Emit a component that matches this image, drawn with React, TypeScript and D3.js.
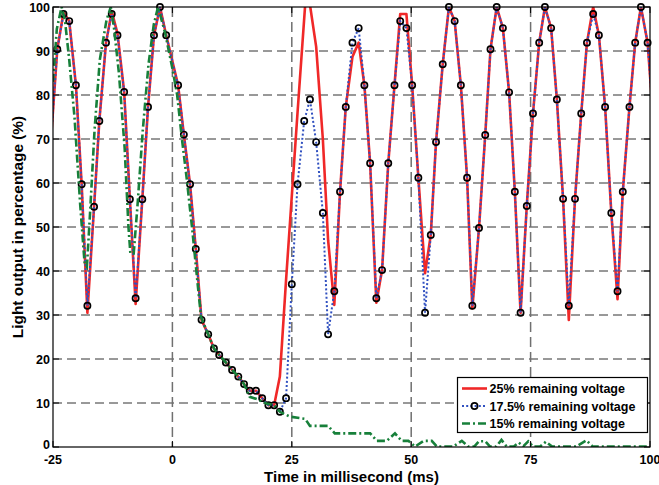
import React from 'react';
import * as d3 from 'd3';

// ---- data ----
const xTicks = [-25, 0, 25, 50, 75, 100];
const yTicks = [0, 10, 20, 30, 40, 50, 60, 70, 80, 90, 100];
const xGrid = [0, 25, 50, 75];
const yGrid = [10, 20, 30, 40, 50, 60, 70, 80, 90];

const seriesNames = ['25% remaining voltage', '17.5% remaining voltage', '15% remaining voltage'];

const redX = [-25.35, -24.1, -22.8, -21.6, -20.2, -19.0, -17.8, -16.4, -15.3, -13.9, -12.7, -11.5, -10.1, -8.9, -7.7, -6.3, -5.1, -3.85, -2.6, -1.3, 1.2, 2.4, 3.7, 4.9, 6.1, 7.5, 8.7, 9.8, 11.2, 12.5, 13.8, 15.0, 16.2, 17.5, 18.8, 20.1, 21.3, 22.5, 23.8, 25.0, 26.2, 27.8, 28.8, 30.1, 31.5, 32.6, 33.9, 35.1, 36.3, 37.7, 39.0, 40.2, 41.4, 42.7, 43.9, 45.2, 46.5, 47.7, 49.0, 50.2, 51.5, 52.9, 54.1, 55.2, 56.6, 57.9, 59.1, 60.4, 61.7, 62.8, 64.2, 65.5, 66.6, 67.9, 69.2, 70.5, 71.7, 72.9, 74.2, 75.5, 76.8, 78.0, 79.3, 80.5, 81.8, 83.0, 84.3, 85.6, 86.8, 88.1, 89.3, 90.6, 91.9, 93.2, 94.3, 95.7, 96.9, 98.1, 99.5, 100.7];
const redY = [71, 90.4, 98.8, 96.8, 82.2, 59.7, 30.5, 54.6, 74.1, 91.9, 99.0, 94.0, 80.7, 56.3, 32.5, 56.3, 77.3, 93.6, 100, 93.6, 82.2, 71.0, 59.7, 45.0, 28.9, 25.6, 22.4, 20.9, 19.2, 17.5, 16.0, 14.3, 12.8, 12.8, 11.1, 9.5, 9.5, 16.0, 38, 57, 76, 100.5, 100.5, 91, 70, 47, 32.3, 58.0, 77.3, 88.7, 91.9, 82.2, 64.5, 32.8, 40.2, 64.5, 82.2, 98.4, 98.4, 82.2, 61.2, 39.5, 48.2, 69.3, 87.0, 100, 96.8, 82.2, 61.2, 31.5, 49.8, 70.9, 90.4, 100, 95.2, 80.6, 58.0, 30.5, 54.8, 75.8, 91.9, 100, 95.2, 79.0, 56.4, 28.9, 56.4, 75.8, 91.9, 100, 93.6, 77.3, 53.2, 33.6, 58.0, 77.3, 91.9, 100, 91.9, 74];

const blueX = [-25.35, -24.1, -22.8, -21.6, -20.2, -19.0, -17.8, -16.4, -15.3, -13.9, -12.7, -11.5, -10.1, -8.9, -7.7, -6.3, -5.1, -3.85, -2.6, -1.3, 1.2, 2.4, 3.7, 4.9, 6.1, 7.5, 8.7, 9.8, 11.2, 12.5, 13.8, 15.0, 16.2, 17.5, 18.8, 20.1, 21.3, 22.5, 23.8, 25.0, 26.2, 27.6, 28.8, 30.1, 31.5, 32.6, 33.9, 35.1, 36.3, 37.7, 39.0, 40.2, 41.4, 42.7, 43.9, 45.2, 46.5, 47.7, 49.0, 50.2, 51.5, 52.9, 54.1, 55.2, 56.6, 57.9, 59.1, 60.4, 61.7, 62.8, 64.2, 65.5, 66.6, 67.9, 69.2, 70.5, 71.7, 72.9, 74.2, 75.5, 76.8, 78.0, 79.3, 80.5, 81.8, 83.0, 84.3, 85.6, 86.8, 88.1, 89.3, 90.6, 91.9, 93.2, 94.3, 95.7, 96.9, 98.1, 99.5, 100.7];
const blueY = [71, 90.4, 98.4, 96.8, 82.2, 59.7, 32.1, 54.6, 74.1, 91.9, 98.4, 93.6, 80.7, 56.3, 33.8, 56.3, 77.3, 93.6, 100, 93.6, 82.2, 71.0, 59.7, 45.0, 28.9, 25.6, 22.4, 20.9, 19.2, 17.5, 16.0, 14.3, 12.8, 12.8, 11.1, 9.5, 9.5, 8.0, 11.1, 37.0, 59.7, 74.1, 79.0, 69.3, 53.2, 25.6, 35.4, 58.0, 77.3, 91.9, 95.2, 82.2, 64.5, 33.8, 40.2, 64.5, 82.2, 96.8, 95.2, 82.2, 61.2, 30.5, 48.2, 69.3, 87.0, 100, 96.8, 82.2, 61.2, 32.1, 49.8, 70.9, 90.4, 100, 95.2, 80.6, 58.0, 30.5, 54.8, 75.8, 91.9, 100, 95.2, 79.0, 56.4, 32.1, 56.4, 75.8, 91.9, 98.4, 93.6, 77.3, 53.2, 35.4, 58.0, 77.3, 91.9, 100, 91.9, 74];

const greenX = [-25.0, -24.2, -23.2, -22.5, -21.6, -20.5, -19.3, -18.4, -17.9, -17.3, -16.3, -15.2, -13.8, -12.9, -12.2, -11.2, -10.0, -9.2, -8.8, -8.1, -7.3, -6.2, -5.0, -3.9, -3.0, -1.5, 0.0, 1.0, 2.0, 3.0, 4.2, 5.2, 6.0, 7.5, 8.7, 9.8, 11.2, 12.5, 13.8, 15.0, 16.2, 17.9, 19.7, 21.3, 22.5, 24.6, 27.8, 28.8, 32.6, 34.0, 41.4, 42.8, 44.9, 46.6, 48.0, 49.4, 50.8, 52.6, 54.3, 55.4, 58.8, 60.6, 62.0, 63.2, 64.2, 65.5, 66.5, 67.8, 68.9, 70.0, 71.5, 72.5, 73.5, 74.5, 75.5, 77.0, 78.2, 79.5, 84.5, 86.7, 88.0, 100];
const greenY = [83, 95, 100, 97, 88, 75, 55, 42, 41, 52, 72, 88, 97, 100, 95, 85, 68, 50, 44, 44, 55, 72, 87, 96, 100, 94, 86, 80, 70, 61, 49, 38, 29.5, 25.6, 22.4, 20.9, 19.2, 17.5, 16.0, 14.3, 11.4, 10.8, 9.9, 9.5, 8.0, 6.9, 6.4, 4.8, 4.8, 3.1, 3.1, 1.4, 1.4, 3.1, 1.4, 1.4, 0.1, 1.4, 1.4, 0.1, 0.1, 1.4, 0.1, 0.1, 1.3, 1.3, 0.1, 0.1, 1.6, 0.1, 0.1, 1.0, 0.2, 1.3, 0.1, 0.1, 1.2, 0.1, 0.1, 1.5, 0.1, 0.1];

// ---- layout ----
const W = 659;
const H = 485;
const L = 53;
const R = 650;
const T = 7;
const B = 447;

const RED = '#f02828';
const BLUE = '#3050c0';
const GREEN = '#17803a';
const FONT = '"Liberation Sans", Arial, Helvetica, sans-serif';

export default function App() {
  const x = d3.scaleLinear().domain([-25, 100]).range([L, R]);
  const y = d3.scaleLinear().domain([0, 100]).range([B, T]);

  const line = d3
    .line<[number, number]>()
    .x((d) => x(d[0]))
    .y((d) => y(d[1]));

  const red: [number, number][] = redX.map((v, i) => [v, redY[i]]);
  const blue: [number, number][] = blueX.map((v, i) => [v, blueY[i]]);
  const green: [number, number][] = greenX.map((v, i) => [v, greenY[i]]);
  const markers = blue.filter((d) => d[0] >= -25 && d[0] <= 100);

  const legX0 = 457.5;
  const legY0 = 377.5;
  const legRows = [388.5, 406, 423.5];

  return (
    <svg
      width={W}
      height={H}
      style={{ position: 'absolute', left: 0, top: 0, background: '#fff' }}
      fontFamily={FONT}
    >
      <defs>
        <clipPath id="plot">
          <rect x={L} y={T} width={R - L} height={B - T} />
        </clipPath>
      </defs>
      <rect x={0} y={0} width={W} height={H} fill="#fff" />

      {/* grid */}
      {yGrid.map((v) => (
        <line key={'gy' + v} x1={L} x2={R} y1={y(v)} y2={y(v)} stroke="#333" strokeWidth={1} strokeDasharray="9,5" />
      ))}
      {xGrid.map((v) => (
        <line key={'gx' + v} x1={x(v)} x2={x(v)} y1={T} y2={B} stroke="#707070" strokeWidth={1.5} strokeDasharray="10,5" />
      ))}

      {/* series */}
      <g clipPath="url(#plot)" fill="none">
        <path d={line(red) || ''} stroke={RED} strokeWidth={2.6} strokeLinejoin="round" />
        <path d={line(blue) || ''} stroke={BLUE} strokeWidth={2} strokeDasharray="2,2.2" />
      </g>
      {markers.map((d, i) => (
        <circle key={'m' + i} cx={x(d[0])} cy={y(d[1])} r={3.1} fill="none" stroke="#000" strokeWidth={1.7} />
      ))}
      <g clipPath="url(#plot)" fill="none">
        <path d={line(green) || ''} stroke={GREEN} strokeWidth={2.6} strokeDasharray="8,3,2,3" />
      </g>

      {/* axes box */}
      <rect x={L} y={T} width={R - L} height={B - T} fill="none" stroke="#000" strokeWidth={1.2} />

      {/* ticks */}
      {xTicks.map((v) => (
        <g key={'xt' + v}>
          <line x1={x(v)} x2={x(v)} y1={B} y2={B - 6} stroke="#000" strokeWidth={1} />
          <line x1={x(v)} x2={x(v)} y1={T} y2={T + 6} stroke="#000" strokeWidth={1} />
          <text x={x(v)} y={463.5} textAnchor="middle" fontSize={12.5} fontWeight="bold" fill="#000">
            {v}
          </text>
        </g>
      ))}
      {yTicks.map((v) => (
        <g key={'yt' + v}>
          <line x1={L} x2={L + 6} y1={y(v)} y2={y(v)} stroke="#000" strokeWidth={1} />
          <line x1={R} x2={R - 6} y1={y(v)} y2={y(v)} stroke="#000" strokeWidth={1} />
          <text x={50} y={v === 0 ? y(v) + 2 : y(v) + 4.5} textAnchor="end" fontSize={12.5} fontWeight="bold" fill="#000">
            {v}
          </text>
        </g>
      ))}

      {/* axis titles */}
      <text x={(L + R) / 2} y={481.5} textAnchor="middle" fontSize={15} fontWeight="bold" fill="#000">
        Time in millisecond (ms)
      </text>
      <text
        transform={`translate(23, ${(T + B) / 2}) rotate(-90)`}
        textAnchor="middle"
        fontSize={15.4}
        fontWeight="bold"
        fill="#000"
      >
        Light output in percentage (%)
      </text>

      {/* legend */}
      <rect x={legX0} y={legY0} width={190} height={55} fill="#fff" stroke="#000" strokeWidth={1.2} />
      <line x1={462} x2={487} y1={legRows[0]} y2={legRows[0]} stroke={RED} strokeWidth={2.6} />
      <line x1={462} x2={487} y1={legRows[1]} y2={legRows[1]} stroke={BLUE} strokeWidth={2} strokeDasharray="2,2.2" />
      <circle cx={474.5} cy={legRows[1]} r={3.1} fill="none" stroke="#000" strokeWidth={1.7} />
      <line x1={462} x2={487} y1={legRows[2]} y2={legRows[2]} stroke={GREEN} strokeWidth={2.6} strokeDasharray="8,3,2,3" />
      {seriesNames.map((s, i) => (
        <text key={s} x={489.5} y={legRows[i] + 4.5} fontSize={12.5} fontWeight="bold" fill="#000">
          {s}
        </text>
      ))}
    </svg>
  );
}
